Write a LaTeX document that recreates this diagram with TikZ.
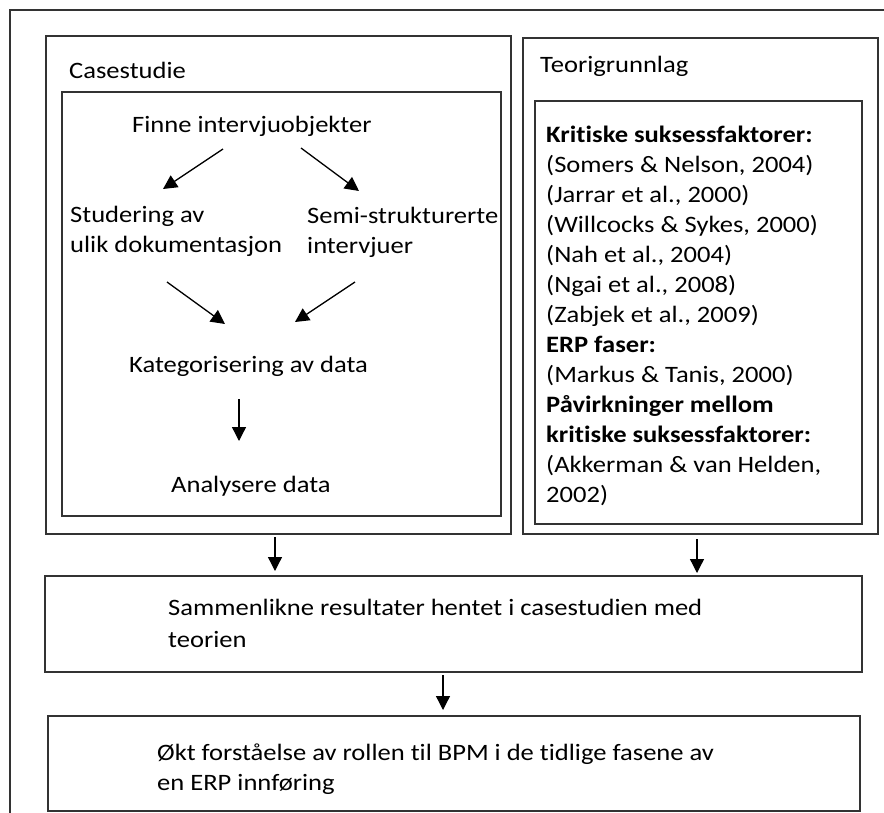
\documentclass[tikz,border=0pt]{standalone}
\usepackage{fontspec}
\setmainfont{Carlito}[FakeStretch=1.13, Ligatures=NoCommon]
\usetikzlibrary{arrows.meta}

\tikzset{
  frame/.style={draw=black!80, line width=1.8pt, inner sep=0pt, anchor=north west},
  arr/.style={draw=black, line width=1.3pt, -{Triangle[length=14pt,width=14pt]}},
  % base anchor of a multi-line label sits on its last line
  lbl/.style={anchor=base west, inner sep=0pt, align=left,
              font=\fontsize{23.5}{30}\selectfont},
}

\begin{document}
\begin{tikzpicture}[x=1pt, y=-1pt]
  \useasboundingbox (0,0) rectangle (884,812);
  \clip (0,0) rectangle (884,812);
  \fill[white] (0,0) rectangle (884,812);

  % outer frame (runs past the right and lower edges)
  \node[frame, minimum width=900pt, minimum height=830pt] (outer) at (9,9) {};

  % case study column
  \node[frame, minimum width=465pt, minimum height=498pt] (case) at (45,35) {};
  \node[frame, minimum width=439pt, minimum height=424pt] (casein) at (61,91) {};
  % theory column
  \node[frame, minimum width=355pt, minimum height=496pt] (teori) at (522,37) {};
  \node[frame, minimum width=327pt, minimum height=423pt] (teoriin) at (534,100) {};
  % lower boxes
  \node[frame, minimum width=817pt, minimum height=96pt] (samm) at (44,575) {};
  \node[frame, minimum width=812pt, minimum height=95pt] (okt) at (47,715) {};

  % headings and steps
  \node[lbl] (tcase) at (69,78) {Casestudie};
  \node[lbl] (tteori) at (540,72) {Teorigrunnlag};
  \node[lbl] (finne) at (132,132) {Finne intervjuobjekter};
  \node[lbl] (stud) at (70,252) {Studering av\\ulik dokumentasjon};
  \node[lbl] (semi) at (307,253) {Semi-strukturerte\\intervjuer};
  \node[lbl] (kat) at (129,372) {Kategorisering av data};
  \node[lbl] (anal) at (171,492) {Analysere data};

  \node[lbl] (refs) at (546,502) {\textbf{Kritiske suksessfaktorer:}\\
    (Somers \& Nelson, 2004)\\
    (Jarrar et al., 2000)\\
    (Willcocks \& Sykes, 2000)\\
    (Nah et al., 2004)\\
    (Ngai et al., 2008)\\
    (Zabjek et al., 2009)\\
    \textbf{ERP faser:}\\
    (Markus \& Tanis, 2000)\\
    \textbf{Påvirkninger mellom}\\
    \textbf{kritiske suksessfaktorer:}\\
    (Akkerman \& van Helden,\\
    2002)};

  \node[lbl, font=\fontsize{23.5}{32}\selectfont] (tsamm) at (168,647)
    {Sammenlikne resultater hentet i casestudien med\\teorien};
  \node[lbl] (tokt) at (157,790)
    {Økt forståelse av rollen til BPM i de tidlige fasene av\\en ERP innføring};

  % arrow end points
  \coordinate (a1s) at (223,149); \coordinate (a1e) at (163,189);
  \coordinate (a2s) at (301,148); \coordinate (a2e) at (359,191);
  \coordinate (a3s) at (167,282); \coordinate (a3e) at (225,324);
  \coordinate (a4s) at (355,282); \coordinate (a4e) at (295,322);
  \coordinate (a5s) at (239,399); \coordinate (a5e) at (239,441);
  \coordinate (a6s) at (275,537); \coordinate (a6e) at (275,571);
  \coordinate (a7s) at (697,539); \coordinate (a7e) at (697,573);
  \coordinate (a8s) at (443,675); \coordinate (a8e) at (443,710);

  \draw[arr] (a1s) -- (a1e);
  \draw[arr] (a2s) -- (a2e);
  \draw[arr] (a3s) -- (a3e);
  \draw[arr] (a4s) -- (a4e);
  \draw[arr] (a5s) -- (a5e);
  \draw[arr] (a6s) -- (a6e);
  \draw[arr] (a7s) -- (a7e);
  \draw[arr] (a8s) -- (a8e);
\end{tikzpicture}
\end{document}
